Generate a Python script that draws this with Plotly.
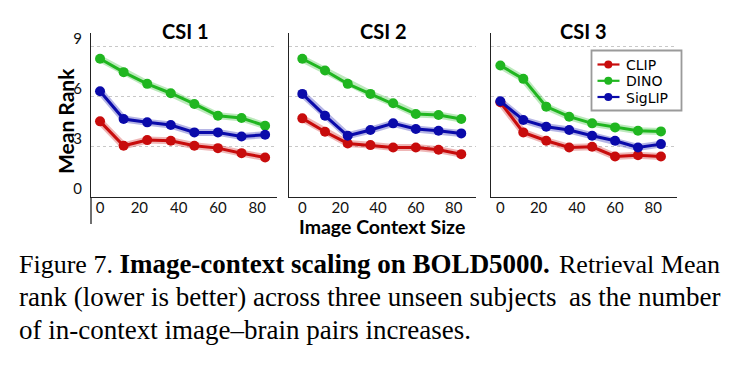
import plotly.graph_objects as go

W, H = 740, 366

# ---------------- data ----------------
context_sizes = [0, 12, 24, 36, 48, 60, 72, 84]
x_tick_vals = [0, 20, 40, 60, 80]
y_tick_vals = [0, 3, 6, 9]
panel_titles = ["CSI 1", "CSI 2", "CSI 3"]
model_names = ["CLIP", "DINO", "SigLIP"]

clip_csi1 = [4.52, 3.06, 3.40, 3.36, 3.06, 2.92, 2.62, 2.36]
dino_csi1 = [8.26, 7.46, 6.76, 6.20, 5.56, 4.86, 4.72, 4.26]
siglip_csi1 = [6.32, 4.66, 4.46, 4.30, 3.86, 3.86, 3.62, 3.72]

clip_csi2 = [4.70, 3.90, 3.20, 3.10, 2.96, 2.96, 2.82, 2.56]
dino_csi2 = [8.26, 7.56, 6.76, 6.16, 5.60, 4.96, 4.90, 4.66]
siglip_csi2 = [6.16, 4.86, 3.66, 4.00, 4.40, 4.06, 3.96, 3.80]

clip_csi3 = [5.66, 3.86, 3.36, 2.96, 3.00, 2.42, 2.50, 2.42]
dino_csi3 = [7.86, 7.06, 5.40, 4.80, 4.40, 4.16, 3.96, 3.92]
siglip_csi3 = [5.72, 4.60, 4.20, 4.00, 3.66, 3.36, 2.96, 3.16]

caption_lines = [
    ("Figure 7. <b><span style='font-size:27px'>Image-context scaling on BOLD5000.</span></b>",
     "Retrieval Mean", 26),
    ("rank (lower is better) across three unseen subjects", "as the number", 27),
    ("of in-context image\u2013brain pairs increases.", None, 27),
]

# ---------------- styling ----------------
colors = {"CLIP": "rgb(200,12,12)", "DINO": "rgb(32,182,32)", "SigLIP": "rgb(10,10,170)"}
band_colors = {"CLIP": "rgba(200,12,12,0.30)", "DINO": "rgba(32,182,32,0.30)",
               "SigLIP": "rgba(10,10,170,0.30)"}
SANS = "Lato, 'Open Sans', sans-serif"
LEG = "'DejaVu Sans', sans-serif"
SERIF = "'Liberation Serif', 'Times New Roman', serif"

def px_x(p):
    return p / W

def px_y(p):
    return 1 - p / H

x_domains = [(91, 276.7), (288.7, 476), (491, 677)]
x_ranges = [(-4.6, 89.9), (-7.2, 91.8), (-4.9, 92.4)]
y_domain = (px_y(197), px_y(33))
y_range = (0, 9.8)

series = [
    {"CLIP": clip_csi1, "DINO": dino_csi1, "SigLIP": siglip_csi1},
    {"CLIP": clip_csi2, "DINO": dino_csi2, "SigLIP": siglip_csi2},
    {"CLIP": clip_csi3, "DINO": dino_csi3, "SigLIP": siglip_csi3},
]

fig = go.Figure()

for i, panel in enumerate(series):
    xa = "x" if i == 0 else f"x{i+1}"
    ya = "y" if i == 0 else f"y{i+1}"
    for name in model_names:
        fig.add_trace(go.Scatter(
            x=context_sizes, y=panel[name], xaxis=xa, yaxis=ya,
            mode="lines", line=dict(color=band_colors[name], width=7),
            showlegend=False, hoverinfo="skip"))
    for name in model_names:
        fig.add_trace(go.Scatter(
            x=context_sizes, y=panel[name], xaxis=xa, yaxis=ya,
            mode="lines+markers", name=name,
            line=dict(color=colors[name], width=3),
            marker=dict(color=colors[name], size=10),
            showlegend=False))

layout = dict(
    width=W, height=H,
    margin=dict(l=0, r=0, t=0, b=0, pad=0, autoexpand=False),
    paper_bgcolor="white", plot_bgcolor="white",
    font=dict(family=SANS, color="black"),
    showlegend=False,
)

for i in range(3):
    xk = "xaxis" if i == 0 else f"xaxis{i+1}"
    yk = "yaxis" if i == 0 else f"yaxis{i+1}"
    ya = "y" if i == 0 else f"y{i+1}"
    xa = "x" if i == 0 else f"x{i+1}"
    layout[xk] = dict(
        domain=[px_x(x_domains[i][0]), px_x(x_domains[i][1])],
        range=list(x_ranges[i]), anchor=ya, automargin=False,
        tickvals=x_tick_vals, ticks="", showgrid=False, zeroline=False,
        showline=True, linecolor="#222", linewidth=1.3,
        tickfont=dict(family=SANS, size=15, color="#111"),
        ticklabelstandoff=-3,
    )
    layout[yk] = dict(
        domain=list(y_domain), range=list(y_range), anchor=xa, automargin=False,
        tickvals=y_tick_vals, ticks="", showticklabels=(i == 0),
        showgrid=True, gridcolor="#c8c8c8", griddash="dot", gridwidth=1,
        zeroline=False, showline=True, linecolor="#222", linewidth=1.3,
        tickfont=dict(family=SANS, size=15, color="#111"),
        ticklabelshift=-8, ticklabelstandoff=5,
    )

fig.update_layout(**layout)

annotations = []
title_x = [185, 383, 583]
for i, t in enumerate(panel_titles):
    annotations.append(dict(
        text=f"<b>{t}</b>", x=px_x(title_x[i]), y=px_y(31), xref="paper", yref="paper",
        xanchor="center", yanchor="middle", showarrow=False,
        font=dict(family=SANS, size=20, color="black")))

annotations.append(dict(
    text="<b>Mean Rank</b>", x=px_x(65), y=px_y(121), xref="paper", yref="paper",
    xanchor="center", yanchor="middle", showarrow=False, textangle=-90,
    font=dict(family=SANS, size=21, color="black")))
annotations.append(dict(
    text="<b>Image Context Size</b>", x=px_x(382), y=px_y(226), xref="paper", yref="paper",
    xanchor="center", yanchor="middle", showarrow=False,
    font=dict(family=SANS, size=19.5, color="black")))

# legend (drawn manually to match the compact boxed legend)
legend_box = (591.5, 50.5, 681.5, 110.5)
legend_rows_y = [64.5, 80.8, 97.0]
fig.add_shape(type="rect", xref="paper", yref="paper",
              x0=px_x(legend_box[0]), x1=px_x(legend_box[2]),
              y0=px_y(legend_box[3]), y1=px_y(legend_box[1]),
              line=dict(color="#9a9a9a", width=1.8), fillcolor="white", layer="above")
for name, ry in zip(model_names, legend_rows_y):
    fig.add_shape(type="line", xref="paper", yref="paper",
                  x0=px_x(597.5), x1=px_x(619.5), y0=px_y(ry), y1=px_y(ry),
                  line=dict(color=colors[name], width=2.2), layer="above")
    fig.add_shape(type="circle", xref="paper", yref="paper",
                  x0=px_x(604.3), x1=px_x(612.3), y0=px_y(ry + 4), y1=px_y(ry - 4),
                  line=dict(color=colors[name], width=0), fillcolor=colors[name], layer="above")
    annotations.append(dict(
        text=name, x=px_x(623.5), y=px_y(ry + 0.5), xref="paper", yref="paper",
        xanchor="left", yanchor="middle", showarrow=False,
        font=dict(family=LEG, size=14, color="black")))

caption_y = [264, 297, 330]
for (left, right, fs), cy in zip(caption_lines, caption_y):
    annotations.append(dict(
        text=left, x=px_x(17), y=px_y(cy), xref="paper", yref="paper",
        xanchor="left", yanchor="middle", showarrow=False,
        font=dict(family=SERIF, size=fs, color="black")))
    if right:
        annotations.append(dict(
            text=right, x=px_x(722), y=px_y(cy), xref="paper", yref="paper",
            xanchor="right", yanchor="middle", showarrow=False,
            font=dict(family=SERIF, size=fs, color="black")))

fig.update_layout(annotations=annotations)

fig.add_shape(type="line", xref="paper", yref="paper",
              x0=px_x(91), x1=px_x(91), y0=px_y(197), y1=px_y(224),
              line=dict(color="#222", width=1.3))

fig.write_html("out.html")
